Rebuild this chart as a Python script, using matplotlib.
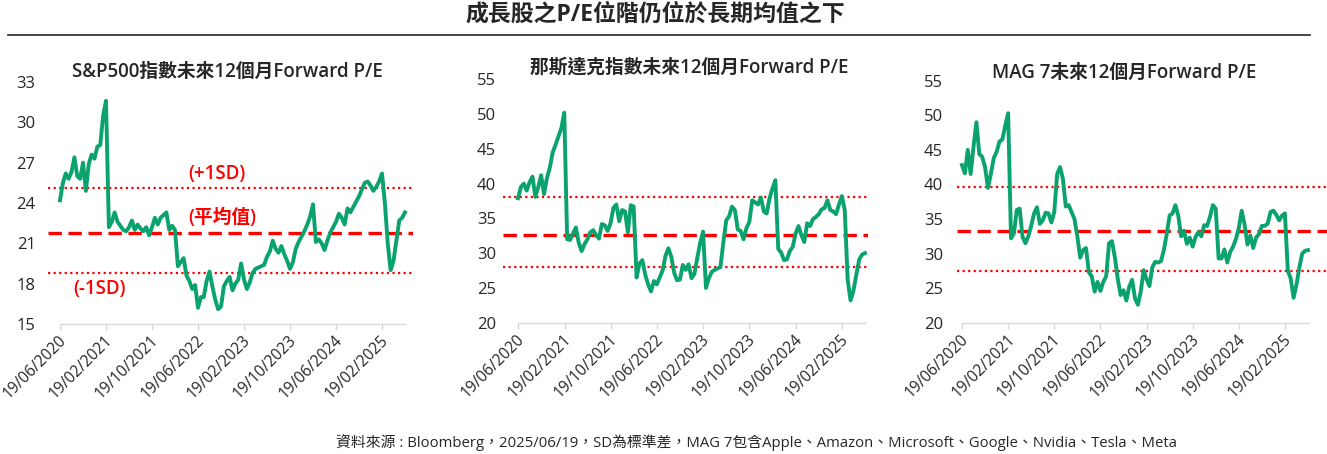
import numpy as np
import pandas as pd
import matplotlib
matplotlib.use('Agg')
import matplotlib.pyplot as plt
import matplotlib.dates as mdates
import matplotlib.transforms as mtransforms

plt.rcParams['font.family'] = ['Open Sans', 'Noto Sans CJK TC', 'DejaVu Sans']

# semi-monthly forward P/E readings, 19/06/2020 -> 19/06/2025
spx_pe = [24.2, 25.5, 26.2, 25.8, 26.3, 27.4, 26.0, 25.8, 27.0, 24.9,
          26.9, 27.6, 27.3, 28.2, 28.3, 30.5, 31.6, 22.2, 22.6, 23.3,
          22.6, 22.3, 22.0, 21.9, 22.2, 22.7, 22.0, 22.4, 22.1, 21.9,
          22.2, 21.6, 22.2, 22.9, 22.4, 22.9, 23.1, 23.3, 22.0, 22.3,
          22.0, 19.3, 19.6, 19.9, 18.6, 18.2, 17.6, 17.9, 16.2, 17.0,
          17.0, 18.2, 18.9, 17.8, 16.8, 16.1, 16.3, 17.8, 18.2, 18.5,
          17.5, 18.0, 18.3, 19.5, 18.3, 17.6, 18.1, 18.8, 19.1, 19.2,
          19.3, 19.4, 20.0, 20.4, 21.2, 20.6, 20.3, 20.8, 20.2, 19.7,
          19.1, 19.6, 20.6, 21.1, 21.5, 21.9, 22.4, 23.0, 23.9, 21.1,
          21.3, 21.0, 20.5, 21.2, 21.8, 22.2, 22.6, 23.2, 22.9, 22.4,
          23.6, 23.3, 23.7, 24.1, 24.5, 25.0, 25.5, 25.6, 25.3, 24.9,
          25.2, 25.6, 26.2, 24.0, 21.0, 19.0, 19.7, 21.2, 22.7, 22.9,
          23.3]

ndx_pe = [37.9, 39.5, 40.0, 39.0, 40.2, 41.0, 38.1, 39.5, 41.2, 38.5,
          40.8, 42.3, 44.5, 45.6, 46.8, 48.0, 50.2, 32.0, 31.9, 32.8,
          33.7, 31.5, 30.3, 31.3, 32.0, 33.0, 33.3, 32.6, 32.1, 34.2,
          34.0, 33.2, 34.3, 36.5, 37.0, 34.6, 36.2, 36.0, 33.0, 36.9,
          36.7, 26.5, 28.5, 29.0, 26.9, 25.5, 24.5, 26.0, 25.5, 26.5,
          27.5, 29.6, 30.7, 29.5, 27.2, 26.1, 26.2, 28.3, 27.6, 28.4,
          26.4, 27.0, 29.3, 31.5, 33.1, 25.0, 26.4, 27.3, 27.6, 27.8,
          28.0, 31.5, 34.7, 35.3, 36.7, 36.2, 33.4, 33.2, 32.0, 33.6,
          34.5, 37.6, 37.3, 37.0, 38.0, 36.0, 35.7, 37.9, 39.3, 40.5,
          30.6, 30.1, 29.0, 29.1, 30.3, 30.9, 32.8, 33.9, 32.6, 31.6,
          34.3, 33.9, 34.9, 35.2, 35.6, 36.3, 36.5, 37.6, 36.2, 36.0,
          35.6, 37.0, 38.2, 36.2, 26.2, 23.2, 24.6, 26.9, 29.1, 29.8,
          30.0]

mag7_pe = [42.8, 41.6, 45.0, 41.5, 45.5, 49.0, 44.4, 44.0, 42.5, 39.5,
           41.5, 43.8, 44.7, 46.2, 46.5, 48.5, 50.3, 32.2, 32.9, 36.3,
           36.5, 32.4, 31.5, 32.5, 34.0, 35.8, 36.7, 34.3, 34.8, 35.9,
           35.8, 34.5, 36.0, 41.5, 42.5, 40.8, 36.8, 37.0, 36.0, 35.0,
           32.5, 29.4, 30.5, 30.8, 27.3, 26.7, 24.5, 25.9, 24.6, 25.9,
           26.7, 31.5, 31.8, 29.5, 26.4, 24.0, 24.7, 23.2, 25.2, 26.2,
           23.5, 22.6, 24.5, 27.6, 26.3, 25.3, 28.0, 28.8, 28.7, 28.9,
           30.5, 32.8, 35.5, 35.8, 37.0, 35.5, 32.5, 33.3, 31.4, 32.3,
           31.0, 32.4, 33.1, 32.5, 34.1, 34.0, 35.3, 37.0, 36.5, 29.3,
           29.3, 30.6, 28.7, 30.2, 31.0, 32.1, 33.7, 36.2, 34.2, 31.3,
           32.6, 30.8, 32.3, 32.8, 34.0, 34.0, 34.3, 36.0, 36.2, 35.6,
           34.8, 35.5, 35.8, 27.5, 26.4, 23.6, 25.5, 28.0, 30.0, 30.4,
           30.5]

# +1SD, mean, -1SD
spx_bands = [25.1, 21.8, 18.8]
ndx_bands = [38.1, 32.6, 28.0]
mag7_bands = [39.6, 33.3, 27.5]

dates = pd.date_range('2020-06-19', '2025-06-19', periods=len(spx_pe))
tick_dates = pd.to_datetime(['2020-06-19', '2021-02-19', '2021-10-19', '2022-06-19',
                             '2023-02-19', '2023-10-19', '2024-06-19', '2025-02-19'])
tick_labels = ['19/06/2020', '19/02/2021', '19/10/2021', '19/06/2022',
               '19/02/2023', '19/10/2023', '19/06/2024', '19/02/2025']

titles = ['S&P500指數未來12個月Forward P/E', '那斯達克指數未來12個月Forward P/E',
          'MAG 7未來12個月Forward P/E']

W, H = 1327, 454
GREEN = '#0AA36D'
RED = '#FF0000'
TXT = '#262626'

fig = plt.figure(figsize=(W / 100, H / 100), dpi=100)

# left/right/bottom/top in px, extra room left/right of the data, y label pad,
# title centre (px)
panels = [
    (48, 413, 324, 82, 12, 8, 9, (15, 33), np.arange(15, 34, 3), spx_pe, spx_bands, (227, 72)),
    (503, 868, 322.7, 79.3, 15, 3, 5, (20, 55), np.arange(20, 56, 5), ndx_pe, ndx_bands, (689, 68)),
    (957, 1327, 322.7, 80.7, 5, 19, 10, (20, 55), np.arange(20, 56, 5), mag7_pe, mag7_bands, (1124, 73)),
]

shift = mtransforms.ScaledTranslation(4 / 100, 0, fig.dpi_scale_trans)

x0 = mdates.date2num(dates[0])
x1 = mdates.date2num(dates[-1])
for i, (l, r, b, t, pl, pr, lpad, ylim, yt, vals, bands, tpos) in enumerate(panels):
    ax = fig.add_axes([l / W, 1 - b / H, (r - l) / W, (b - t) / H])
    dpp = (x1 - x0) / ((r - l) - pl - pr)
    ax.plot(dates, vals, color=GREEN, lw=2.8, solid_joinstyle='round', zorder=3)
    ax.set_xlim(x0 - pl * dpp, x1 + pr * dpp)
    ax.set_ylim(*ylim)

    ax.axhline(bands[0], color=RED, lw=1.6, ls=(0, (1, 1.5)))
    ax.axhline(bands[2], color=RED, lw=1.6, ls=(0, (1, 1.5)))
    ax.axhline(bands[1], color=RED, lw=2.4, ls=(0, (4, 2)))

    for s in ['top', 'right', 'left']:
        ax.spines[s].set_visible(False)
    ax.spines['bottom'].set_color('#D9D9D9')
    ax.spines['bottom'].set_linewidth(1.0)
    ax.spines['bottom'].set_bounds(x0, x1)

    ax.set_yticks(yt)
    ax.set_yticklabels([str(v) for v in yt])
    ax.tick_params(axis='y', length=0, pad=lpad, labelsize=12, labelcolor=TXT)
    ax.set_xticks(mdates.date2num(tick_dates))
    ax.set_xticklabels(tick_labels, rotation=45, ha='right', va='center',
                       rotation_mode='anchor')
    ax.tick_params(axis='x', length=4, color='#D9D9D9', width=1, pad=6,
                   labelsize=11.2, labelcolor=TXT)
    for lab in ax.get_xticklabels():
        lab.set_transform(lab.get_transform() + shift)

    fig.text(tpos[0] / W, 1 - tpos[1] / H, titles[i], ha='center', va='center',
             fontsize=13.5, fontweight='semibold', color=TXT)

    if i == 0:
        ax.text(mdates.date2num(pd.Timestamp('2022-04-27')), bands[0] + 0.35, '(+1SD)',
                color=RED, fontsize=13.5, fontweight='semibold', va='bottom')
        ax.text(mdates.date2num(pd.Timestamp('2022-04-27')), bands[1] + 0.35, '(平均值)',
                color=RED, fontsize=13.5, fontweight='semibold', va='bottom')
        ax.text(mdates.date2num(pd.Timestamp('2020-08-27')), bands[2] - 0.45, '(-1SD)',
                color=RED, fontsize=13.5, fontweight='semibold', va='top')

fig.text(655 / W, 1 - 15 / H, '成長股之P/E位階仍位於長期均值之下', ha='center', va='center',
         fontsize=16.5, fontweight='bold', color=TXT)
fig.add_artist(plt.Line2D([8 / W, 1310 / W], [1 - 35 / H, 1 - 35 / H], color=TXT, lw=1.2))
fig.text(757 / W, 1 - 443 / H,
         '資料來源 : Bloomberg，2025/06/19，SD為標準差，MAG 7包含Apple、Amazon、Microsoft、Google、Nvidia、Tesla、Meta',
         ha='center', va='center', fontsize=10.7, color=TXT)

fig.savefig('out.png', dpi=100)
